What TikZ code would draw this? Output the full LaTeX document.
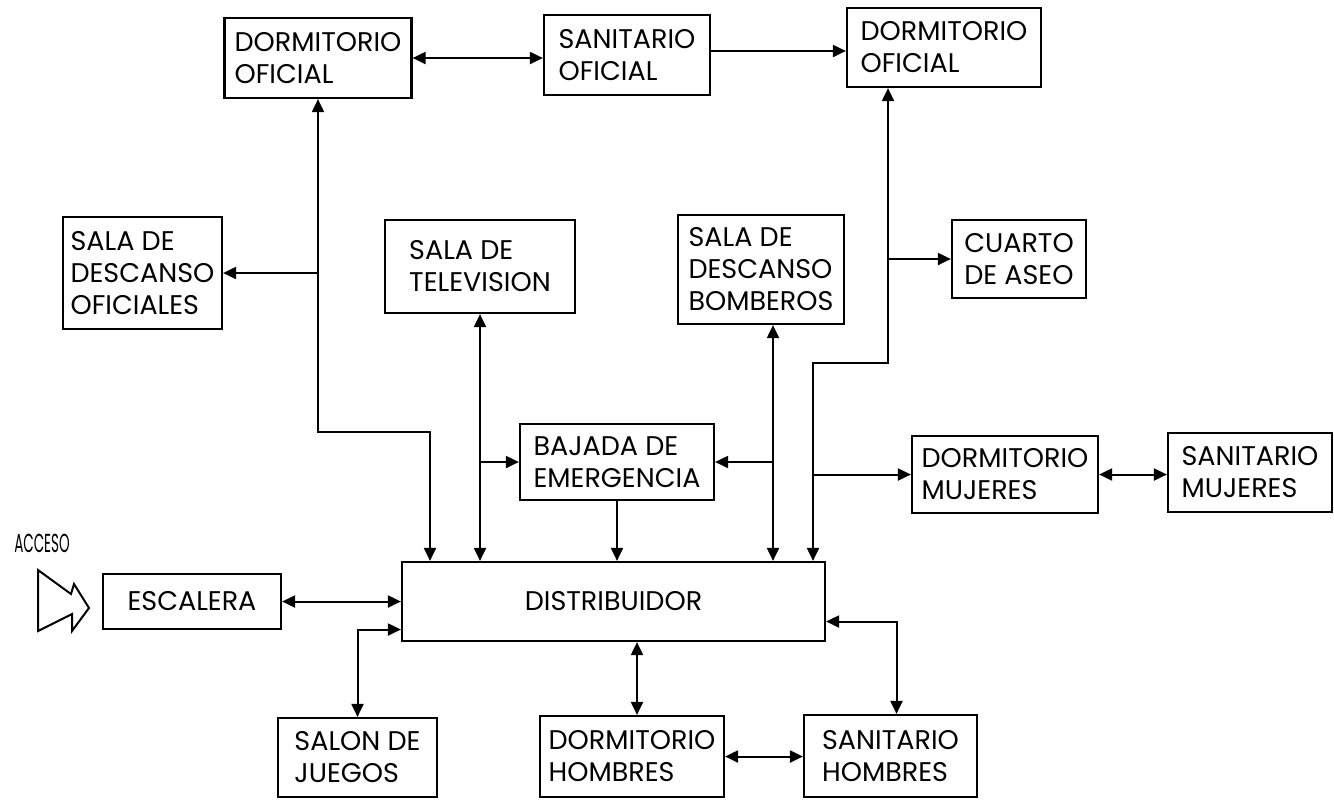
\documentclass[tikz,border=0pt]{standalone}
\usepackage{fontspec}
\setmainfont{Poppins}
\usepackage{tikz}
\usetikzlibrary{arrows.meta,calc}
\newcommand{\roomfont}{\fontsize{13.5}{16}\selectfont}
\tikzset{
  room/.style={draw,line width=1.1pt,inner sep=1pt,align=left,font=\roomfont},
  flow/.style={-{Triangle[length=6.5pt,width=6pt]},line width=1pt},
  biflow/.style={{Triangle[length=6.5pt,width=6pt]}-{Triangle[length=6.5pt,width=6pt]},line width=1pt},
}
\begin{document}
\begin{tikzpicture}[x=0.5pt,y=-0.5pt]
\useasboundingbox (0,0) rectangle (1334,800);
% rooms
\node[room,minimum width=93.5pt,minimum height=40pt]   (dofl)  at (318,58)     {DORMITORIO\\OFICIAL};
\node[room,minimum width=83pt,minimum height=40pt]     (sofl)  at (627,55)     {SANITARIO\\OFICIAL};
\node[room,minimum width=97pt,minimum height=39.5pt]   (dofr)  at (944,47.5)   {DORMITORIO\\OFICIAL};
\node[room,minimum width=79.5pt,minimum height=56pt]   (sdof)  at (142.5,273)  {SALA DE\\DESCANSO\\OFICIALES};
\node[room,minimum width=95pt,minimum height=46.5pt]   (tv)    at (480,266.5)  {SALA DE\\TELEVISION};
\node[room,minimum width=83pt,minimum height=54.5pt]   (sdbo)  at (761,269.5)  {SALA DE\\DESCANSO\\BOMBEROS};
\node[room,minimum width=67pt,minimum height=39pt]     (aseo)  at (1019,259)   {CUARTO\\DE ASEO};
\node[room,minimum width=97pt,minimum height=38pt]     (baja)  at (617,462)    {BAJADA DE\\EMERGENCIA};
\node[room,minimum width=93pt,minimum height=38.5pt]   (dmuj)  at (1005,474.5) {DORMITORIO\\MUJERES};
\node[room,minimum width=82pt,minimum height=39.5pt]   (smuj)  at (1250,472.5) {SANITARIO\\MUJERES};
\node[room,minimum width=89pt,minimum height=27.5pt]   (esc)   at (192,601.5)  {ESCALERA};
\node[room,minimum width=211.5pt,minimum height=39.5pt](dist)  at (613.5,601.5){DISTRIBUIDOR};
\node[room,minimum width=79.5pt,minimum height=39.5pt] (salon) at (357.5,757.5) {SALON DE\\JUEGOS};
\node[room,minimum width=92pt,minimum height=40.5pt]   (dhom)  at (632,756.5)  {DORMITORIO\\HOMBRES};
\node[room,minimum width=86.5pt,minimum height=41pt]   (shom)  at (890.5,756)  {SANITARIO\\HOMBRES};
% access
\node[font=\fontsize{13}{13}\selectfont] (acc) at (42,543) {\scalebox{0.52}[1]{ACCESO}};
\draw[line width=1pt] (38,570) -- (71,594) -- (74,584) -- (89,608) -- (72,631) -- (72,614) -- (38,631) -- cycle;
% junctions
\coordinate (jl) at (430,432);
\coordinate (tb) at ([xshift=6pt]sdbo.south);
\coordinate (tr) at ([xshift=-28pt]dofr.south);
\coordinate (jr) at (813,363);
\coordinate (th) at ([xshift=2.5pt]dhom.north);
% top row
\draw[biflow] (dofl.east) -- (dofl.east -| sofl.west);
\draw[flow] ([yshift=2pt]sofl.east) -- ([yshift=2pt]sofl.east -| dofr.west);
% trunks into the distribuidor
\draw[biflow] (dofl.south) |- (jl) -- (jl |- dist.north);
\draw[flow] (dofl.south |- sdof.east) -- (sdof.east);
\draw[biflow] (tv.south) -- (tv.south |- dist.north);
\draw[flow] (tv.south |- baja.west) -- (baja.west);
\draw[flow] (baja.south) -- (baja.south |- dist.north);
\draw[biflow] (tb) -- (tb |- dist.north);
\draw[flow] (tb |- baja.east) -- (baja.east);
\draw[biflow] (tr) |- (jr) -- (jr |- dist.north);
\draw[flow] (tr |- aseo.west) -- (aseo.west);
\draw[flow] (jr |- dmuj.west) -- (dmuj.west);
\draw[biflow] (dmuj.east) -- (dmuj.east -| smuj.west);
% lower part
\draw[biflow] (esc.east) -- (esc.east -| dist.west);
\draw[biflow] ([yshift=-14pt]dist.west) -| (salon.north);
\draw[biflow] (th |- dist.south) -- (th);
\draw[biflow] (dhom.east) -- (dhom.east -| shom.west);
\draw[biflow] ([yshift=-10pt]dist.east) -| ([xshift=3pt]shom.north);
\end{tikzpicture}
\end{document}
